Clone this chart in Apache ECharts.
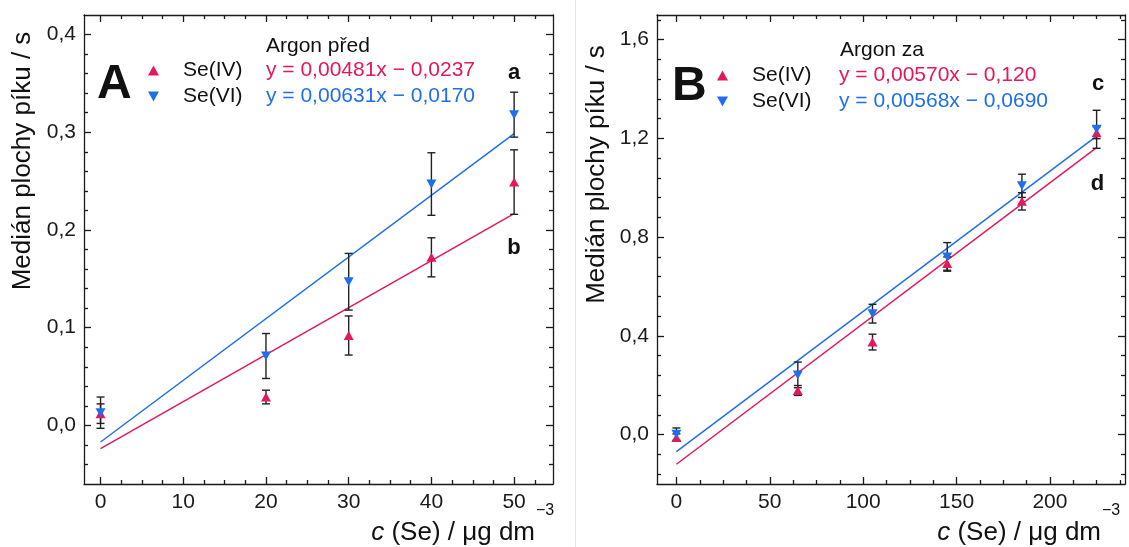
<!DOCTYPE html>
<html>
<head>
<meta charset="utf-8">
<script src="https://cdn.jsdelivr.net/npm/echarts@6/dist/echarts.min.js"></script>
<style>
  html, body { margin: 0; padding: 0; background: #fff; }
  #chart { width: 1129px; height: 547px; }
</style>
</head>
<body>
<div id="chart"></div>
<script>
// --- data, panel A (Argon před) ---
var concA = [0, 20, 30, 40, 50];
var seIV_A = [0.012, 0.029, 0.092, 0.172, 0.249];
var seIV_A_err = [0.010, 0.007, 0.020, 0.020, 0.033];
var seVI_A = [0.013, 0.071, 0.147, 0.247, 0.318];
var seVI_A_err = [0.016, 0.023, 0.029, 0.032, 0.023];
var fitIV_A = [[0, -0.0237], [50, 0.2168]];
var fitVI_A = [[0, -0.0170], [50, 0.2985]];

// --- data, panel B (Argon za) ---
var concB = [0, 65, 105, 145, 185, 225];
var seIV_B = [-0.012, 0.179, 0.375, 0.693, 0.945, 1.223];
var seIV_B_err = [0.015, 0.020, 0.032, 0.027, 0.035, 0.024];
var seVI_B = [0.002, 0.242, 0.490, 0.720, 1.008, 1.237];
var seVI_B_err = [0.025, 0.052, 0.038, 0.058, 0.047, 0.077];
var fitIV_B = [[0, -0.120], [225, 1.1625]];
var fitVI_B = [[0, -0.069], [225, 1.209]];

// --- ticks ---
var xMajorA = [0, 10, 20, 30, 40, 50];
var yMajorA = [0, 0.1, 0.2, 0.3, 0.4];
var xMajorB = [0, 50, 100, 150, 200];
var yMajorB = [0, 0.4, 0.8, 1.2, 1.6];

// --- texts ---
var titlesTop = ['Argon před', 'Argon za'];
var panelLetters = ['A', 'B'];
var curveLetters = ['a', 'b', 'c', 'd'];
var speciesNames = ['Se(IV)', 'Se(VI)'];
var eqA = ['y = 0,00481x − 0,0237', 'y = 0,00631x − 0,0170'];
var eqB = ['y = 0,00570x − 0,120', 'y = 0,00568x − 0,0690'];
var yTitle = 'Medián plochy píku / s';

var red = '#e5175c';
var blue = '#1f6fec';
var ink = '#1a1a1a';
var font = '"Liberation Sans", Arial, Helvetica, sans-serif';
var downTri = 'path://M0,0L10,0L5,9Z';

function minorValues(from, to, step, major) {
  var out = [];
  var n = Math.round((to - from) / step);
  for (var i = 0; i <= n; i++) {
    var v = Math.round((from + i * step) * 1e6) / 1e6;
    var q = v / major;
    if (Math.abs(q - Math.round(q)) > 1e-6) out.push(v);
  }
  return out;
}
var xMinorA = minorValues(0, 52.5, 2.5, 10);
var yMinorA = minorValues(-0.04, 0.40, 0.02, 0.1);
var xMinorB = minorValues(12.5, 237.5, 12.5, 50);
var yMinorB = minorValues(-0.16, 1.68, 0.08, 0.4);

function fmtInt(v) { return String(Math.round(v)); }
function fmtDec(v) { return v.toFixed(1).replace('.', ','); }

function makeAxis(grid, pos, min, max, ticks, len, showLine, fmt) {
  return {
    type: 'value', gridIndex: grid, position: pos, min: min, max: max,
    axisLine: { show: showLine, onZero: false, lineStyle: { color: ink, width: 1.3 } },
    axisTick: { show: true, inside: true, length: len, customValues: ticks,
      lineStyle: { color: ink, width: 1.3 } },
    axisLabel: { show: !!fmt, customValues: ticks, formatter: fmt, margin: 8,
      color: ink, fontSize: 21, fontFamily: font },
    minorTick: { show: false },
    splitLine: { show: false }
  };
}

var xAxes = [
  makeAxis(0, 'bottom', -2, 54.7, xMajorA, 7, true, fmtInt),
  makeAxis(0, 'bottom', -2, 54.7, xMinorA, 4, false),
  makeAxis(0, 'top', -2, 54.7, xMajorA, 7, true),
  makeAxis(0, 'top', -2, 54.7, xMinorA, 4, false),
  makeAxis(1, 'bottom', -10.4, 240.2, xMajorB, 7, true, fmtInt),
  makeAxis(1, 'bottom', -10.4, 240.2, xMinorB, 4, false),
  makeAxis(1, 'top', -10.4, 240.2, xMajorB, 7, true),
  makeAxis(1, 'top', -10.4, 240.2, xMinorB, 4, false)
];
var yAxes = [
  makeAxis(0, 'left', -0.06, 0.42, yMajorA, 7, true, fmtDec),
  makeAxis(0, 'left', -0.06, 0.42, yMinorA, 4, false),
  makeAxis(0, 'right', -0.06, 0.42, yMajorA, 7, true),
  makeAxis(0, 'right', -0.06, 0.42, yMinorA, 4, false),
  makeAxis(1, 'left', -0.2, 1.7, yMajorB, 7, true, fmtDec),
  makeAxis(1, 'left', -0.2, 1.7, yMinorB, 4, false),
  makeAxis(1, 'right', -0.2, 1.7, yMajorB, 7, true),
  makeAxis(1, 'right', -0.2, 1.7, yMinorB, 4, false)
];

function points(xs, ys) {
  return xs.map(function (x, i) { return [x, ys[i]]; });
}

function errorSeries(xs, ys, errs, ax) {
  return {
    type: 'custom', xAxisIndex: ax, yAxisIndex: ax, z: 2, silent: true,
    encode: { x: 0, y: [1, 2] },
    data: xs.map(function (x, i) { return [x, ys[i] - errs[i], ys[i] + errs[i]]; }),
    renderItem: function (params, api) {
      var lo = api.coord([api.value(0), api.value(1)]);
      var hi = api.coord([api.value(0), api.value(2)]);
      var w = 4;
      var st = { stroke: '#222', lineWidth: 1.4 };
      return {
        type: 'group',
        children: [
          { type: 'line', shape: { x1: lo[0], y1: lo[1], x2: hi[0], y2: hi[1] }, style: st },
          { type: 'line', shape: { x1: lo[0] - w, y1: lo[1], x2: lo[0] + w, y2: lo[1] }, style: st },
          { type: 'line', shape: { x1: hi[0] - w, y1: hi[1], x2: hi[0] + w, y2: hi[1] }, style: st }
        ]
      };
    }
  };
}

function fitSeries(data, color, ax) {
  return {
    type: 'line', xAxisIndex: ax, yAxisIndex: ax, data: data, z: 1,
    symbol: 'none', silent: true,
    lineStyle: { color: color, width: 1.5 }
  };
}

function markSeries(name, xs, ys, symbol, color, ax) {
  return {
    name: name, type: 'scatter', xAxisIndex: ax, yAxisIndex: ax, z: 3,
    data: points(xs, ys), symbol: symbol, symbolSize: [10, 9],
    itemStyle: { color: color, opacity: 1 }
  };
}

var legendText = {
  A_IV: '{n|' + speciesNames[0] + '}{r|' + eqA[0] + '}',
  A_VI: '{n|' + speciesNames[1] + '}{b|' + eqA[1] + '}',
  B_IV: '{m|' + speciesNames[0] + '}{r|' + eqB[0] + '}',
  B_VI: '{m|' + speciesNames[1] + '}{b|' + eqB[1] + '}'
};
var rich = {
  n: { width: 83, padding: [0, 0, 0, 19], fontSize: 21, lineHeight: 26, color: '#111', fontFamily: font },
  m: { width: 87, padding: [0, 0, 0, 19], fontSize: 21, lineHeight: 26, color: '#111', fontFamily: font },
  r: { fontSize: 21, lineHeight: 26, color: red, fontFamily: font },
  b: { fontSize: 21, lineHeight: 26, color: blue, fontFamily: font }
};
function makeLegend(left, top, names) {
  return {
    left: left, top: top, orient: 'vertical', itemGap: 0, padding: 5,
    itemWidth: 11, itemHeight: 10, selectedMode: false,
    data: names,
    formatter: function (n) { return legendText[n]; },
    textStyle: { fontFamily: font, fontSize: 21, lineHeight: 26, color: '#111', rich: rich }
  };
}

function txt(x, y, text, size, opts) {
  opts = opts || {};
  return {
    type: 'text', x: x, y: y, rotation: opts.rot || 0, silent: true,
    style: {
      text: text, fill: opts.color || '#111', fontSize: size,
      fontWeight: opts.bold ? 'bold' : 'normal', fontFamily: font,
      align: opts.align || 'left', verticalAlign: 'middle',
      rich: opts.rich
    }
  };
}
var xTitleRich = {
  i: { fontStyle: 'italic', fontSize: 26, fontFamily: font, fill: '#111' },
  t: { fontSize: 26, fontFamily: font, fill: '#111' }
};

var chart = echarts.init(document.getElementById('chart'), null, { renderer: 'canvas' });
chart.setOption({
  animation: false,
  backgroundColor: '#fff',
  grid: [
    { left: 84, top: 15, width: 469, height: 469, outerBoundsMode: 'none' },
    { left: 657, top: 15, width: 468, height: 469, outerBoundsMode: 'none' }
  ],
  xAxis: xAxes,
  yAxis: yAxes,
  legend: [
    makeLegend(143, 52.5, ['A_IV', 'A_VI']),
    makeLegend(712, 57.5, ['B_IV', 'B_VI'])
  ],
  series: [
    fitSeries(fitIV_A, red, 0),
    fitSeries(fitVI_A, blue, 0),
    errorSeries(concA, seIV_A, seIV_A_err, 0),
    errorSeries(concA, seVI_A, seVI_A_err, 0),
    markSeries('A_IV', concA, seIV_A, 'triangle', red, 0),
    markSeries('A_VI', concA, seVI_A, downTri, blue, 0),
    fitSeries(fitIV_B, red, 4),
    fitSeries(fitVI_B, blue, 4),
    errorSeries(concB, seIV_B, seIV_B_err, 4),
    errorSeries(concB, seVI_B, seVI_B_err, 4),
    markSeries('B_IV', concB, seIV_B, 'triangle', red, 4),
    markSeries('B_VI', concB, seVI_B, downTri, blue, 4)
  ],
  graphic: [
    { type: 'line', silent: true, shape: { x1: 575.5, y1: 0, x2: 575.5, y2: 547 },
      style: { stroke: '#e4e4e4', lineWidth: 1 } },
    txt(266, 46, titlesTop[0], 21),
    txt(840, 50, titlesTop[1], 21),
    txt(97, 85, panelLetters[0], 48, { bold: true }),
    txt(672, 86.5, panelLetters[1], 48, { bold: true }),
    txt(514, 72.5, curveLetters[0], 22, { bold: true, align: 'center' }),
    txt(514, 247.5, curveLetters[1], 22, { bold: true, align: 'center' }),
    txt(1098, 84, curveLetters[2], 22, { bold: true, align: 'center' }),
    txt(1097.5, 184, curveLetters[3], 22, { bold: true, align: 'center' }),
    txt(22.6, 161, yTitle, 26, { rot: Math.PI / 2, align: 'center' }),
    txt(597, 174.5, yTitle, 26, { rot: Math.PI / 2, align: 'center' }),
    txt(535, 532.6, '{i|c}{t| (Se) / μg dm}', 26, { align: 'right', rich: xTitleRich }),
    txt(536, 511, '−3', 16),
    txt(1101, 532.6, '{i|c}{t| (Se) / μg dm}', 26, { align: 'right', rich: xTitleRich }),
    txt(1102, 511, '−3', 16)
  ]
});
</script>
</body>
</html>
